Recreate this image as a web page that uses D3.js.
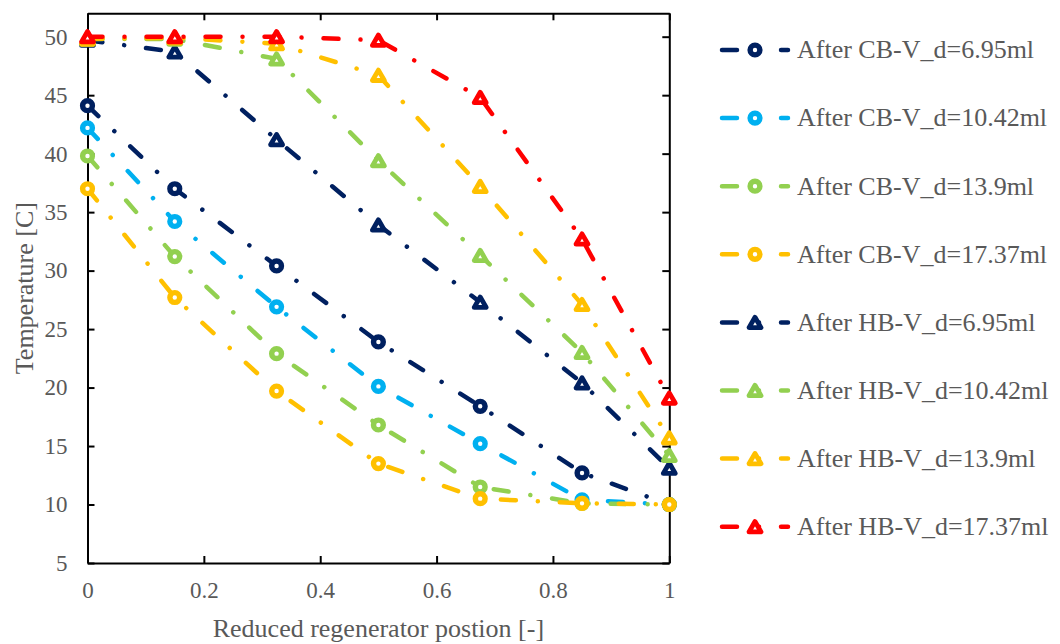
<!DOCTYPE html>
<html>
<head>
<meta charset="utf-8">
<script src="https://cdn.jsdelivr.net/npm/d3@7"></script>
<style>
  body { margin: 0; background: #fff; }
  svg text { font-family: "Liberation Serif", "Times New Roman", serif; fill: #595959; }
</style>
</head>
<body>
<div id="chart"></div>
<script>
// Reduced regenerator position (x) shared by every series
const positions = [0, 0.15, 0.325, 0.5, 0.675, 0.85, 1];

// Temperatures
const cb695  = [44.1, 37.0, 30.4, 23.9, 18.4, 12.7, 10.0];
const cb1042 = [42.2, 34.2, 26.9, 20.1, 15.2, 10.4, 10.0];
const cb139  = [39.8, 31.2, 22.9, 16.8, 11.5, 10.1, 10.0];
const cb1737 = [37.0, 27.7, 19.7, 13.5, 10.5, 10.1, 10.0];
const hb695  = [49.7, 48.7, 41.2, 33.9, 27.3, 20.4, 13.1];
const hb1042 = [49.8, 49.8, 48.1, 39.4, 31.3, 23.0, 14.2];
const hb139  = [49.8, 49.9, 49.4, 46.7, 37.2, 27.1, 15.7];
const hb1737 = [50.0, 50.0, 50.0, 49.7, 44.8, 32.7, 19.1];

const seriesNames = [
    "After CB-V_d=6.95ml", "After CB-V_d=10.42ml", "After CB-V_d=13.9ml", "After CB-V_d=17.37ml",
    "After HB-V_d=6.95ml", "After HB-V_d=10.42ml", "After HB-V_d=13.9ml", "After HB-V_d=17.37ml"
];
const seriesValues = [cb695, cb1042, cb139, cb1737, hb695, hb1042, hb139, hb1737];
const seriesColors = ["#002060", "#00B0F0", "#92D050", "#FFC000", "#002060", "#92D050", "#FFC000", "#FF0000"];
const seriesMarkers = ["circle", "circle", "circle", "circle", "triangle", "triangle", "triangle", "triangle"];

const xTicks = [0, 0.2, 0.4, 0.6, 0.8, 1];
const yTicks = [5, 10, 15, 20, 25, 30, 35, 40, 45, 50];

const W = 1060, H = 644;
const margin = { top: 13.3, right: 390.7, bottom: 81, left: 87.5 };
const width = W - margin.left - margin.right;
const height = H - margin.top - margin.bottom;
const dash = "15 22 0.01 22";

const svg = d3.select("#chart").append("svg")
    .attr("width", W)
    .attr("height", H);

const g = svg.append("g")
    .attr("transform", `translate(${margin.left},${margin.top})`);

const x = d3.scaleLinear().domain([0, 1]).range([0, width]);
const y = d3.scaleLinear().domain([5, 52]).range([height, 0]);

// Axes with inward ticks on all four sides
function styleAxis(sel) {
    sel.selectAll("path.domain").attr("stroke", "#000").attr("stroke-width", 2);
    sel.selectAll(".tick line").attr("stroke", "#000").attr("stroke-width", 2);
    sel.selectAll(".tick text").style("font-size", "23px").attr("fill", "#595959");
}

g.append("g")
    .attr("transform", `translate(0,${height})`)
    .call(d3.axisBottom(x).tickValues(xTicks).tickSizeInner(-7).tickSizeOuter(0).tickPadding(19).tickFormat(d3.format("")))
    .call(styleAxis);

g.append("g")
    .call(d3.axisTop(x).tickValues(xTicks).tickSizeInner(-7).tickSizeOuter(0).tickFormat(""))
    .call(styleAxis);

g.append("g")
    .call(d3.axisLeft(y).tickValues(yTicks).tickSizeInner(-7).tickSizeOuter(0).tickPadding(20))
    .call(styleAxis);

g.append("g")
    .attr("transform", `translate(${width},0)`)
    .call(d3.axisRight(y).tickValues(yTicks).tickSizeInner(-7).tickSizeOuter(0).tickFormat(""))
    .call(styleAxis);

g.selectAll(".domain").attr("fill", "none");

// Axis titles
svg.append("text")
    .attr("x", margin.left + width / 2)
    .attr("y", 637)
    .attr("text-anchor", "middle")
    .style("font-size", "26px")
    .text("Reduced regenerator postion [-]");

svg.append("text")
    .attr("transform", `translate(33,${margin.top + height / 2}) rotate(-90)`)
    .attr("text-anchor", "middle")
    .style("font-size", "26px")
    .text("Temperature [C]");

// Marker helpers
const triSide = 12;
const triH = triSide * Math.sqrt(3) / 2;
const triPath = `M0,${-triH / 2}L${triSide / 2},${triH / 2}L${-triSide / 2},${triH / 2}Z`;

function drawMarker(sel, type, color) {
    if (type === "circle") {
        sel.append("circle")
            .attr("r", 4.9)
            .attr("fill", "#fff")
            .attr("stroke", color)
            .attr("stroke-width", 5.4);
    } else {
        sel.append("path")
            .attr("d", triPath)
            .attr("fill", "#fff")
            .attr("stroke", color)
            .attr("stroke-width", 4.8)
            .attr("stroke-linejoin", "round");
    }
}

const line = d3.line()
    .x((d, i) => x(positions[i]))
    .y(d => y(d));

// Series lines and markers, drawn in series order
seriesValues.forEach((vals, s) => {
    const sg = g.append("g").attr("class", "series");
    sg.append("path")
        .datum(vals)
        .attr("d", line)
        .attr("fill", "none")
        .attr("stroke", seriesColors[s])
        .attr("stroke-width", 4.5)
        .attr("stroke-linecap", "round")
        .attr("stroke-dasharray", dash);

    sg.selectAll(".pt")
        .data(vals)
        .enter().append("g")
        .attr("class", "pt")
        .attr("transform", (d, i) => `translate(${x(positions[i])},${y(d)})`)
        .each(function () { drawMarker(d3.select(this), seriesMarkers[s], seriesColors[s]); });
});

// Legend
const legend = svg.append("g").attr("transform", "translate(720,50)");
seriesNames.forEach((name, s) => {
    const row = legend.append("g").attr("transform", `translate(0,${s * 68.1})`);
    row.append("line")
        .attr("x1", 2).attr("x2", 68)
        .attr("stroke", seriesColors[s])
        .attr("stroke-width", 4.5)
        .attr("stroke-linecap", "round")
        .attr("stroke-dasharray", dash);
    const m = row.append("g").attr("transform", "translate(35,0)");
    drawMarker(m, seriesMarkers[s], seriesColors[s]);
    row.append("text")
        .attr("x", 77)
        .attr("dy", "0.32em")
        .style("font-size", "26px")
        .text(name);
});
</script>
</body>
</html>
